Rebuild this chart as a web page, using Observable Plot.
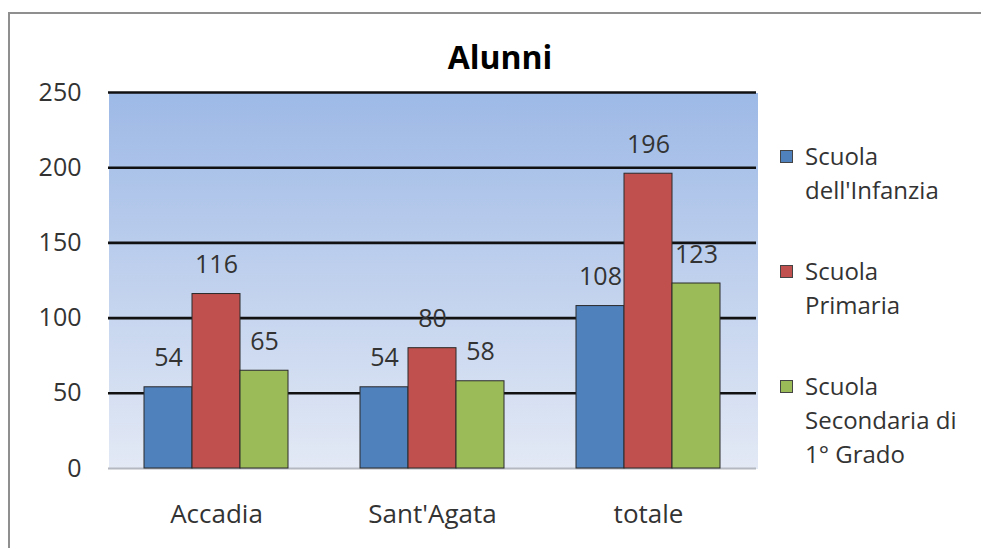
<!DOCTYPE html>
<html>
<head>
<meta charset="utf-8">
<script src="https://cdn.jsdelivr.net/npm/d3@7"></script>
<script src="https://cdn.jsdelivr.net/npm/@observablehq/plot@0.6"></script>
<style>
  html, body { margin: 0; padding: 0; background: #fff; }
  #wrap { position: relative; width: 981px; height: 548px; overflow: hidden; font-family: "Open Sans", sans-serif; color: #333; }
  #border { position: absolute; left: 8px; top: 12px; width: 1200px; height: 800px; border: 2px solid #8f8f8f; box-sizing: border-box; }
  #title { position: absolute; left: 0; width: 1000px; top: 34px; text-align: center; font-size: 32px; font-weight: bold; color: #000; line-height: 46px; }
  #chart { position: absolute; left: 0; top: 0; }
  #legend { position: absolute; left: 780px; top: 139px; font-size: 24px; line-height: 34px; color: #333; }
  .item { position: relative; padding-left: 25px; margin-bottom: 47px; }
  .sw { position: absolute; left: 0; top: 11px; width: 13px; height: 13px; border: 1px solid #444; box-sizing: border-box; }
</style>
</head>
<body>
<div id="wrap">
  <div id="border"></div>
  <div id="chart"></div>
  <div id="title">Alunni</div>
  <div id="legend"></div>
</div>
<script>
const categories = ["Accadia", "Sant'Agata", "totale"];
const series = ["Scuola dell'Infanzia", "Scuola Primaria", "Scuola Secondaria di 1° Grado"];
const legendLines = [["Scuola", "dell'Infanzia"], ["Scuola", "Primaria"], ["Scuola", "Secondaria di", "1° Grado"]];
const infanzia = [54, 54, 108];
const primaria = [116, 80, 196];
const secondaria = [65, 58, 123];
const colors = ["#4F81BD", "#C0504D", "#9BBB59"];
const yTicks = [0, 50, 100, 150, 200, 250];
const gridTicks = [50, 100, 150, 200, 250];

const valuesBySeries = [infanzia, primaria, secondaria];
const rows = [];
categories.forEach((c, i) => series.forEach((s, j) => rows.push({cat: c, series: s, value: valuesBySeries[j][i]})));

const chart = Plot.plot({
  width: 770,
  height: 548,
  marginLeft: 107,
  marginRight: 13,
  marginTop: 92,
  marginBottom: 80,
  style: {fontFamily: "Open Sans, sans-serif", color: "#333", background: "transparent"},
  fx: {domain: categories, paddingInner: 0, paddingOuter: 0, label: null},
  x: {domain: series, paddingInner: 0, paddingOuter: 0.725, axis: null},
  y: {domain: [0, 250]},
  color: {domain: series, range: colors},
  marks: [
    Plot.frame({fill: "url(#bgGrad)", stroke: "none", insetRight: -1, shapeRendering: "crispEdges"}),
    Plot.ruleY([0], {stroke: "#b4b8c0", strokeWidth: 2}),
    Plot.ruleY(gridTicks, {stroke: "#111", strokeWidth: 2.6}),
    Plot.axisFx({anchor: "bottom", tickSize: 0, tickPadding: 36, fontSize: 26, fill: "#333", label: null}),
    Plot.axisY({ticks: yTicks, tickSize: 0, tickPadding: 27, fontSize: 25, fill: "#333", label: null, line: true, stroke: "#b4b8c0", strokeWidth: 2}),
    Plot.barY(rows, {fx: "cat", x: "series", y: "value", fill: "series", stroke: "#2a2a2a", strokeWidth: 1}),
    Plot.text(rows, {fx: "cat", x: "series", y: "value", text: d => String(d.value), dy: -29, fontSize: 25, fill: "#333", textAnchor: "middle", lineAnchor: "middle"})
  ]
});

const ns = "http://www.w3.org/2000/svg";
const defs = document.createElementNS(ns, "defs");
const grad = document.createElementNS(ns, "linearGradient");
grad.setAttribute("id", "bgGrad");
grad.setAttribute("x1", "0"); grad.setAttribute("y1", "0");
grad.setAttribute("x2", "0"); grad.setAttribute("y2", "1");
[["0%", "#9db9e6"], ["100%", "#e3e9f5"]].forEach(([o, c]) => {
  const st = document.createElementNS(ns, "stop");
  st.setAttribute("offset", o); st.setAttribute("stop-color", c);
  grad.appendChild(st);
});
defs.appendChild(grad);
chart.insertBefore(defs, chart.firstChild);
document.getElementById("chart").appendChild(chart);

const legend = document.getElementById("legend");
series.forEach((s, j) => {
  const item = document.createElement("div");
  item.className = "item";
  const sw = document.createElement("div");
  sw.className = "sw";
  sw.style.background = colors[j];
  item.appendChild(sw);
  legendLines[j].forEach(t => {
    const line = document.createElement("div");
    line.textContent = t;
    item.appendChild(line);
  });
  legend.appendChild(item);
});
</script>
</body>
</html>
